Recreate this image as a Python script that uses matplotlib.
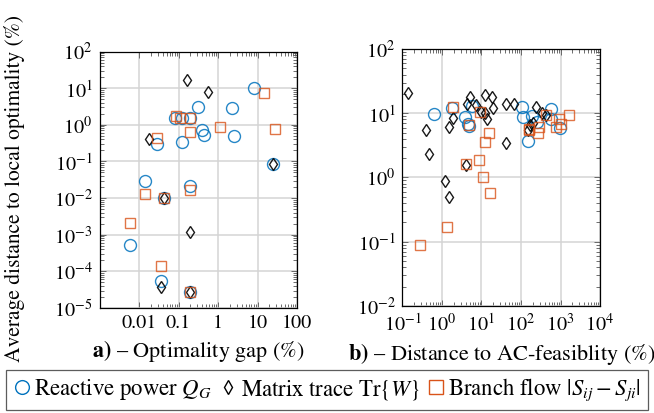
import matplotlib
matplotlib.use("Agg")
import matplotlib.pyplot as plt
from matplotlib.lines import Line2D
from matplotlib.ticker import LogLocator, NullFormatter, FixedLocator

plt.rcParams['font.family'] = ['STIXGeneral', 'DejaVu Serif']
plt.rcParams['mathtext.fontset'] = 'stix'

# ---- Panel a: optimality gap (%) vs average distance to local optimality (%)
a_q_x = [8, 0.31, 2.2, 0.083, 0.12, 0.19, 0.40, 0.45, 2.6, 0.126, 0.028, 24, 0.0138, 0.2, 0.044, 0.0059, 0.037, 0.195]
a_q_y = [10, 3.0, 2.9, 1.58, 1.5, 1.5, 0.7, 0.54, 0.51, 0.33, 0.29, 0.085, 0.029, 0.021, 0.0098, 5.1e-4, 5.6e-5, 2.8e-5]

a_w_x = [0.16, 0.55, 0.018, 24, 0.044, 0.2, 0.037, 0.195]
a_w_y = [17, 8, 0.40, 0.085, 0.0098, 1.2e-3, 3.8e-5, 2.8e-5]

a_s_x = [15, 0.085, 0.11, 0.2, 1.12, 27, 0.2, 0.028, 0.0138, 0.2, 0.044, 0.006, 0.037, 0.195]
a_s_y = [7.5, 1.78, 1.49, 1.5, 0.87, 0.75, 0.62, 0.44, 0.013, 0.017, 0.0098, 2.1e-3, 1.4e-4, 2.8e-5]

# ---- Panel b: distance to AC-feasibility (%) vs average distance to local optimality (%)
b_q_x = [0.62, 1.8, 3.9, 4.5, 4.7, 5.7, 104, 110, 186, 247, 152, 590, 590, 960]
b_q_y = [9.8, 12, 8.9, 6.7, 6.4, 13, 12.3, 8.6, 9.2, 7.2, 3.7, 11.7, 8.2, 6.0]

b_w_x = [0.14, 0.39, 0.46, 1.17, 1.53, 1.53, 1.9, 4.0, 4.3, 5.2, 7.3, 10, 12, 12.6, 18, 19.4, 14,
         42, 66, 42, 238, 337, 425, 200, 168, 150]
b_w_y = [21, 5.5, 2.3, 0.89, 0.5, 6.2, 8.5, 1.58, 14, 18, 13.6, 10.6, 10, 19, 18, 12, 8,
         14, 14, 3.5, 12.6, 10.2, 9.5, 7.1, 6.6, 5.4]

b_s_x = [0.28, 1.34, 4.0, 8.4, 10.8, 16.5, 12, 15.3, 1.9, 4.8, 8.9,
         162, 274, 290, 420, 760, 1050, 1650, 890, 155]
b_s_y = [0.09, 0.17, 1.6, 1.9, 1.0, 0.58, 3.6, 4.9, 12.3, 6.6, 10.5,
         5.4, 4.9, 6.2, 9.3, 6.2, 6.8, 9.5, 8.2, 5.7]

a_xticks = [0.01, 0.1, 1, 10, 100]
a_xticklabels = ['0.01', '0.1', '1', '10', '100']
a_yticks = [1e-5, 1e-4, 1e-3, 1e-2, 1e-1, 1e0, 1e1, 1e2]
a_yticklabels = [r'$10^{-5}$', r'$10^{-4}$', r'$10^{-3}$', r'$10^{-2}$', r'$10^{-1}$', r'$10^{0}$', r'$10^{1}$', r'$10^{2}$']
b_xticks = [1e-1, 1e0, 1e1, 1e2, 1e3, 1e4]
b_xticklabels = [r'$10^{-1}$', r'$10^{0}$', r'$10^{1}$', r'$10^{2}$', r'$10^{3}$', r'$10^{4}$']
b_yticks = [1e-2, 1e-1, 1e0, 1e1, 1e2]
b_yticklabels = [r'$10^{-2}$', r'$10^{-1}$', r'$10^{0}$', r'$10^{1}$', r'$10^{2}$']

labels = ['Reactive power $Q_G$', r'Matrix trace Tr$\{W\}$', r'Branch flow $|S_{ij}-S_{ji}|$']

BLUE = '#0072BD'
ORANGE = '#D95319'
BLACK = '#000000'

W, H = 654, 413
fig = plt.figure(figsize=(W / 100, H / 100), dpi=100)

def box(l, r, t, b):
    return [l / W, 1 - b / H, (r - l) / W, (b - t) / H]

ax1 = fig.add_axes(box(99.5, 297, 51.5, 308))
ax2 = fig.add_axes(box(402.5, 600, 49, 306))

def style(ax, xticks, xlabels, yticks, ylabels, xlim, ylim, minor_x):
    ax.set_xscale('log')
    ax.set_yscale('log')
    ax.set_xlim(*xlim)
    ax.set_ylim(*ylim)
    ax.set_xticks(xticks)
    ax.set_xticklabels(xlabels)
    ax.set_yticks(yticks)
    ax.set_yticklabels(ylabels)
    ax.xaxis.set_minor_locator(FixedLocator(minor_x))
    ax.yaxis.set_minor_locator(LogLocator(base=10, subs=[2, 3, 4, 5, 6, 7, 8, 9], numticks=30))
    ax.xaxis.set_minor_formatter(NullFormatter())
    ax.yaxis.set_minor_formatter(NullFormatter())
    ax.grid(True, which='major', color='#d4d4d4', linewidth=1.1, zorder=0)
    ax.set_axisbelow(True)
    ax.tick_params(which='both', direction='in', top=True, right=True, color='#555555', width=0.6,
                   labelsize=14.5)
    ax.tick_params(which='major', length=4)
    ax.tick_params(which='minor', length=2.6)
    for s in ax.spines.values():
        s.set_linewidth(0.9)
    ax.tick_params(axis='x', pad=5)
    ax.tick_params(axis='y', pad=5)

def minors(lo_exp, hi_exp):
    out = []
    for e in range(lo_exp, hi_exp):
        for m in range(2, 10):
            out.append(m * 10.0 ** e)
    return out

style(ax1, a_xticks, a_xticklabels, a_yticks, a_yticklabels, (1e-3, 1e2), (1e-5, 1e2), minors(-2, 2))
style(ax2, b_xticks, b_xticklabels, b_yticks, b_yticklabels, (1e-1, 1e4), (1e-2, 1e2), minors(-1, 4))

ms_c, ms_d, ms_s = 8.6, 6.1, 7.9
mew = 1.0

def draw(ax, qx, qy, wx, wy, sx, sy):
    ax.plot(qx, qy, 'o', ms=ms_c, mfc='none', mec=BLUE, mew=mew, alpha=0.85, zorder=3)
    ax.plot(wx, wy, 'd', ms=ms_d, mfc='none', mec=BLACK, mew=mew, alpha=0.9, zorder=4)
    ax.plot(sx, sy, 's', ms=ms_s, mfc='none', mec=ORANGE, mew=mew, alpha=0.8, zorder=5)

draw(ax1, a_q_x, a_q_y, a_w_x, a_w_y, a_s_x, a_s_y)
draw(ax2, b_q_x, b_q_y, b_w_x, b_w_y, b_s_x, b_s_y)

ax1.set_xlabel(r'$\mathbf{a)}$ – Optimality gap (%)', fontsize=16, labelpad=4)
ax2.set_xlabel(r'$\mathbf{b)}$ – Distance to AC-feasiblity (%)', fontsize=16, labelpad=4)
fig.text(15 / W, 1 - 188 / H, 'Average distance to local optimality (%)', rotation=90,
         ha='center', va='center', fontsize=15.5)

handles = [
    Line2D([], [], ls='none', marker='o', ms=ms_c * 1.15, mfc='none', mec=BLUE, mew=mew),
    Line2D([], [], ls='none', marker='d', ms=ms_d * 1.2, mfc='none', mec=BLACK, mew=mew),
    Line2D([], [], ls='none', marker='s', ms=ms_s * 1.3, mfc='none', mec=ORANGE, mew=mew),
]
leg = fig.legend(handles, labels, loc='center', bbox_to_anchor=(0.5, 1 - 390 / H), ncol=3,
                 fontsize=16.4, frameon=True, fancybox=False, edgecolor='#333333',
                 handlelength=0.8, handletextpad=0.15, columnspacing=0.3, borderpad=0.3,
                 borderaxespad=0)
leg.get_frame().set_linewidth(0.9)

fig.savefig('out.png', dpi=100)
